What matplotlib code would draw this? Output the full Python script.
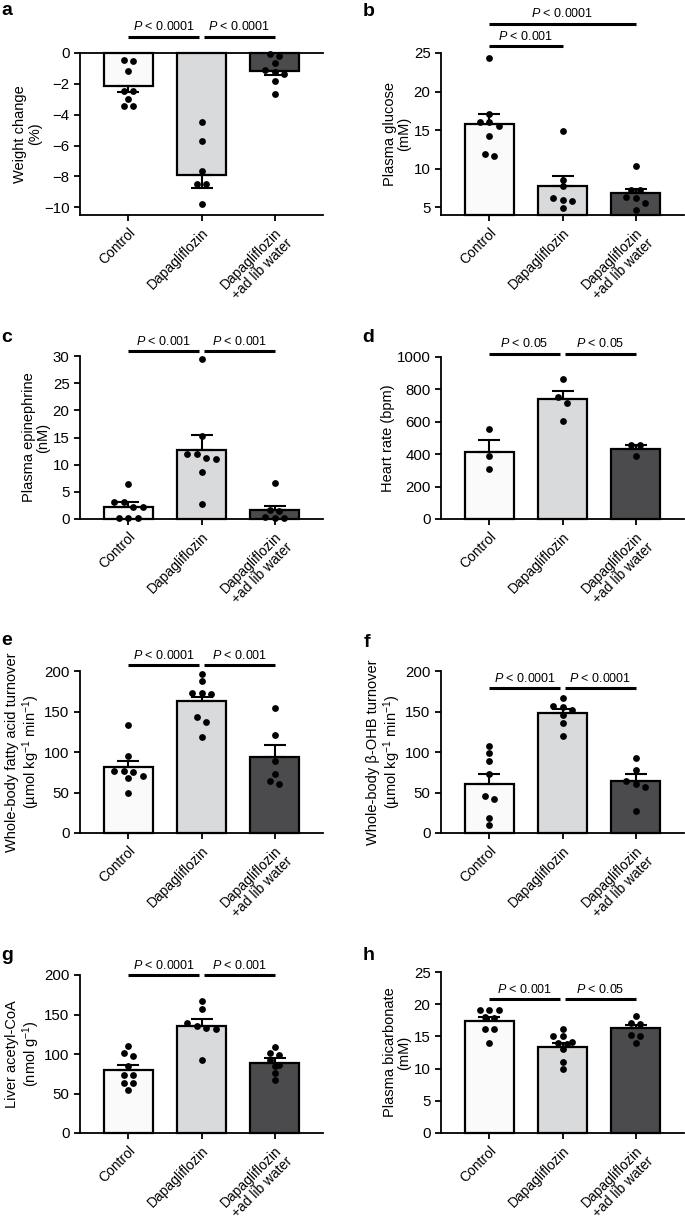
import numpy as np
import matplotlib
matplotlib.use('Agg')
import matplotlib.pyplot as plt
from matplotlib import transforms

plt.rcParams['font.family'] = ['Liberation Sans', 'DejaVu Sans']
plt.rcParams['mathtext.fontset'] = 'custom'
plt.rcParams['mathtext.rm'] = 'Liberation Sans'
plt.rcParams['mathtext.it'] = 'Liberation Sans:italic'
plt.rcParams['mathtext.bf'] = 'Liberation Sans:bold'

groups = ['Control', 'Dapagliflozin', 'Dapagliflozin\n+ad lib water']
bar_colors = ['#fafafa', '#d9dadc', '#4b4b4d']

# a - weight change (%)
weight_mean = [-2.16, -7.91, -1.16]
weight_sem = [0.40, 0.82, 0.27]
weight_pts = [[-0.47, -0.50, -1.16, -2.46, -2.46, -3.0, -3.45, -3.45],
              [-4.5, -5.71, -7.65, -8.47, -8.47, -9.81],
              [-0.04, -0.22, -0.65, -1.08, -1.23, -1.34, -1.81, -2.63]]
weight_p = ['< 0.0001', '< 0.0001']

# b - plasma glucose (mM)
glucose_mean = [15.78, 7.78, 6.83]
glucose_sem = [1.35, 1.26, 0.60]
glucose_pts = [[24.4, 17.1, 16.1, 16.0, 15.5, 14.2, 11.9, 11.7],
               [14.9, 8.6, 7.7, 6.2, 5.9, 5.8, 4.9],
               [10.35, 7.26, 7.26, 6.3, 6.2, 5.6, 4.7]]
glucose_p = ['< 0.001', '< 0.0001']

# c - plasma epinephrine (nM)
epi_mean = [2.27, 12.7, 1.66]
epi_sem = [0.80, 2.76, 0.79]
epi_pts = [[6.4, 3.2, 3.1, 2.2, 2.2, 0.2, 0.1, 0.1],
           [29.5, 15.3, 11.9, 11.9, 11.3, 11.0, 8.7, 2.7],
           [6.6, 1.7, 1.5, 0.3, 0.1, 0.1]]
epi_p = ['< 0.001', '< 0.001']

# d - heart rate (bpm)
hr_mean = [416, 738, 433]
hr_sem = [73, 54, 23]
hr_pts = [[555, 390, 307],
          [866, 755, 718, 602],
          [456, 456, 386]]
hr_p = ['< 0.05', '< 0.05']

# e - whole-body fatty acid turnover
fa_mean = [80.9, 163.0, 94.0]
fa_sem = [8.2, 5.4, 14.4]
fa_pts = [[133.5, 95.3, 76.4, 76.4, 75.6, 69.8, 67.8, 48.9],
          [195.9, 188.0, 173.3, 172.5, 171.3, 143.7, 137.2, 119.1],
          [154.0, 121.0, 88.3, 73.1, 63.7, 60.8]]
fa_p = ['< 0.0001', '< 0.001']

# f - whole-body beta-OHB turnover
ohb_mean = [60.8, 147.8, 63.7]
ohb_sem = [12.3, 5.8, 9.0]
ohb_pts = [[106.8, 98.6, 88.3, 73.1, 46.0, 42.3, 18.5, 9.9],
           [166.3, 156.9, 155.2, 152.0, 145.8, 135.5, 119.9],
           [93.2, 78.0, 63.7, 60.8, 56.3, 27.5]]
ohb_p = ['< 0.0001', '< 0.0001']

# g - liver acetyl-CoA
acoa_mean = [79.7, 135.9, 89.0]
acoa_sem = [6.8, 8.4, 5.5]
acoa_pts = [[109.7, 101.3, 97.0, 85.2, 73.8, 73.8, 63.3, 63.3, 54.4],
            [166.7, 157.0, 138.8, 135.9, 132.5, 131.6, 92.8],
            [108.4, 100.8, 98.3, 92.0, 86.5, 84.4, 76.0, 67.5]]
acoa_p = ['< 0.0001', '< 0.001']

# h - plasma bicarbonate (mM)
bicarb_mean = [17.4, 13.43, 16.27]
bicarb_sem = [0.68, 0.62, 0.53]
bicarb_pts = [[19.1, 19.1, 19.1, 18.0, 17.9, 16.2, 16.2, 14.05],
              [16.1, 15.0, 15.0, 14.1, 13.95, 13.8, 13.0, 10.95, 9.9],
              [18.1, 17.1, 16.9, 15.2, 15.0, 14.0]]
bicarb_p = ['< 0.001', '< 0.05']

W, H = 685, 1221
col_left = [80, 441]


def rect(col, top, bottom):
    return [col_left[col] / W, 1 - bottom / H, 243 / W, (bottom - top) / H]


panels = [
    dict(letter='a', pos=(1, 15), rect=rect(0, 53, 215), mean=weight_mean, sem=weight_sem,
         pts=weight_pts, ylabel='Weight change\n(%)', ylim=(-10.5, 0), yticks=np.arange(-10, 1, 2),
         sig=[(0, 1, weight_p[0], 1.10), (1, 2, weight_p[1], 1.10)], zero_top=True),
    dict(letter='b', pos=(363, 16), rect=rect(1, 53, 215), mean=glucose_mean, sem=glucose_sem,
         pts=glucose_pts, ylabel='Plasma glucose\n(mM)', ylim=(4, 25), yticks=np.arange(5, 26, 5),
         sig=[(0, 1, glucose_p[0], 1.043), (0, 2, glucose_p[1], 1.18)]),
    dict(letter='c', pos=(1, 342), rect=rect(0, 356, 519), mean=epi_mean, sem=epi_sem,
         pts=epi_pts, ylabel='Plasma epinephrine\n(nM)', ylim=(0, 30), yticks=np.arange(0, 31, 5),
         sig=[(0, 1, epi_p[0], 1.03), (1, 2, epi_p[1], 1.03)]),
    dict(letter='d', pos=(362, 342), rect=rect(1, 357, 519), mean=hr_mean, sem=hr_sem,
         pts=hr_pts, ylabel='Heart rate (bpm)', ylim=(0, 1000), yticks=np.arange(0, 1001, 200),
         sig=[(0, 1, hr_p[0], 1.02), (1, 2, hr_p[1], 1.02)]),
    dict(letter='e', pos=(1, 645), rect=rect(0, 671, 833), mean=fa_mean, sem=fa_sem,
         pts=fa_pts, ylabel='Whole-body fatty acid turnover\n(µmol kg$^{-1}$ min$^{-1}$)',
         ylim=(0, 200), yticks=np.arange(0, 201, 50),
         sig=[(0, 1, fa_p[0], 1.035), (1, 2, fa_p[1], 1.035)]),
    dict(letter='f', pos=(364, 647), rect=rect(1, 671, 833), mean=ohb_mean, sem=ohb_sem,
         pts=ohb_pts, ylabel='Whole-body β-OHB turnover\n(µmol kg$^{-1}$ min$^{-1}$)',
         ylim=(0, 200), yticks=np.arange(0, 201, 50),
         sig=[(0, 1, ohb_p[0], 0.893), (1, 2, ohb_p[1], 0.893)]),
    dict(letter='g', pos=(1, 960), rect=rect(0, 975, 1133), mean=acoa_mean, sem=acoa_sem,
         pts=acoa_pts, ylabel='Liver acetyl-CoA\n(nmol g$^{-1}$)',
         ylim=(0, 200), yticks=np.arange(0, 201, 50),
         sig=[(0, 1, acoa_p[0], 1.0), (1, 2, acoa_p[1], 1.0)]),
    dict(letter='h', pos=(363, 960), rect=rect(1, 972, 1133), mean=bicarb_mean, sem=bicarb_sem,
         pts=bicarb_pts, ylabel='Plasma bicarbonate\n(mM)', ylim=(0, 25), yticks=np.arange(0, 26, 5),
         sig=[(0, 1, bicarb_p[0], 0.83), (1, 2, bicarb_p[1], 0.83)]),
]


def swarm_x(ax, xc, ys, dot_px=6.0, step_px=9.5):
    # graphpad-ish rows: points closer than a dot get spread sideways
    ys = np.asarray(ys, dtype=float)
    disp = ax.transData.transform(np.column_stack([np.full(len(ys), xc), ys]))
    py = disp[:, 1]
    order = np.argsort(-py, kind='stable')
    rows = []
    for k in order:
        if rows and abs(py[rows[-1][0]] - py[k]) < dot_px:
            rows[-1].append(k)
        else:
            rows.append([k])
    px = disp[:, 0].copy()
    for row in rows:
        n = len(row)
        for m, k in enumerate(row):
            px[k] += (m - (n - 1) / 2) * step_px
    return ax.transData.inverted().transform(np.column_stack([px, py]))[:, 0]


fig = plt.figure(figsize=(W / 100, H / 100), dpi=100)
x = np.arange(len(groups))

for p in panels:
    ax = fig.add_axes(p['rect'])
    ax.set_xlim(-0.66, 2.66)
    ax.set_ylim(*p['ylim'])

    # bars grow from the x axis when it sits above zero (panel b)
    base = max(0, p['ylim'][0])
    ax.bar(x, np.array(p['mean']) - base, bottom=base, width=0.67, color=bar_colors,
           edgecolor='black', linewidth=1.6, zorder=2, clip_on=False)
    for i in range(len(groups)):
        m, s = p['mean'][i], p['sem'][i]
        yerr = [[s], [0]] if m < 0 else [[0], [s]]
        ax.errorbar(x[i], m, yerr=yerr, fmt='none', ecolor='black',
                    elinewidth=1.5, capsize=8, capthick=1.5, zorder=3)
        xs = swarm_x(ax, x[i], p['pts'][i])
        ax.scatter(xs, p['pts'][i], s=24, color='black', linewidths=0,
                   zorder=4, clip_on=False)

    ax.spines['right'].set_visible(False)
    ax.spines['top'].set_visible(p.get('zero_top', False))
    for side in ['left', 'bottom', 'top']:
        ax.spines[side].set_linewidth(1.3)

    ax.set_yticks(p['yticks'])
    ax.set_xticks(x)
    ax.set_xticklabels(groups, rotation=45, ha='right', va='top',
                       rotation_mode='anchor', fontsize=10, linespacing=1.05)
    ax.tick_params(direction='out', length=4, width=1.3, labelsize=10.8)
    ax.tick_params(axis='x', labelsize=10)
    ax.set_ylabel(p['ylabel'], fontsize=10.5, labelpad=1.5, linespacing=1.1)

    # significance bars
    blend = transforms.blended_transform_factory(ax.transData, ax.transAxes)
    levels = [s[3] for s in p['sig']]
    for i, j, txt, yl in p['sig']:
        shared = levels.count(yl) > 1
        x0 = i + (0.035 if shared and i == 1 else 0)
        x1 = j - (0.035 if shared and j == 1 else 0)
        ax.plot([x0, x1], [yl, yl], color='black', lw=2.2, transform=blend,
                clip_on=False, solid_capstyle='butt')
        ax.annotate('$P$ ' + txt, xy=((x0 + x1) / 2, yl), xycoords=blend,
                    xytext=(0, 2.5), textcoords='offset points',
                    ha='center', va='bottom', fontsize=9)

    fig.text(p['pos'][0] / W, 1 - p['pos'][1] / H, p['letter'], fontsize=14,
             fontweight='bold', va='baseline', ha='left')

fig.savefig('out.png', dpi=100)
